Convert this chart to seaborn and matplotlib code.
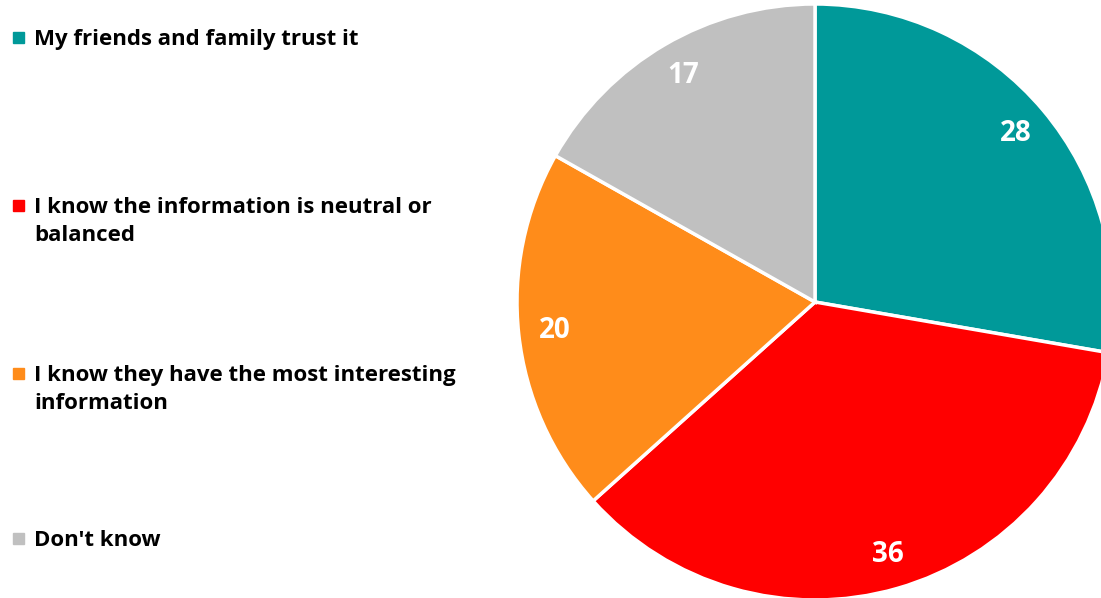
import matplotlib
matplotlib.use("Agg")
import matplotlib.pyplot as plt
import seaborn as sns

CATEGORIES = [
    "My friends and family trust it",
    "I know the information is neutral or\nbalanced",
    "I know they have the most interesting\ninformation",
    "Don't know",
]
VALUES = [28, 36, 20, 17]
COLORS = ["#009999", "#FF0000", "#FF8C1A", "#C0C0C0"]

sns.set_theme(style="white")
plt.rcParams["font.family"] = ["Open Sans", "DejaVu Sans"]

fig = plt.figure(figsize=(11.01, 5.98), dpi=100)

# pie axes: centre ~ (815, 302) px, radius ~ 298 px
r_px = 298
ax = fig.add_axes([(815 - r_px) / 1101, (598 - 302 - r_px) / 598, 2 * r_px / 1101, 2 * r_px / 598])
wedges, texts = ax.pie(
    VALUES,
    colors=sns.color_palette(COLORS),
    labels=[str(v) for v in VALUES],
    labeldistance=0.88,
    startangle=90,
    counterclock=False,
    wedgeprops={"edgecolor": "white", "linewidth": 2.5},
    textprops={"color": "white", "fontsize": 20, "fontweight": "bold"},
)
for t in texts:
    t.set_horizontalalignment("center")
    t.set_verticalalignment("center")
ax.set_xlim(-1, 1)
ax.set_ylim(-1, 1)
ax.set_aspect("equal")
ax.axis("off")

# legend on the left
legend_y = [37, 205, 373, 538]
for label, color, y in zip(CATEGORIES, COLORS, legend_y):
    fig.patches.append(plt.Rectangle((13 / 1101, 1 - (y + 5.5) / 598), 11 / 1101, 11 / 598,
                                     transform=fig.transFigure, color=color, figure=fig))
    fig.text(34 / 1101, 1 - (y - 8) / 598, label, ha="left", va="top",
             fontsize=16, fontweight="bold", color="black", linespacing=1.45)

fig.savefig("out.png", dpi=100)
